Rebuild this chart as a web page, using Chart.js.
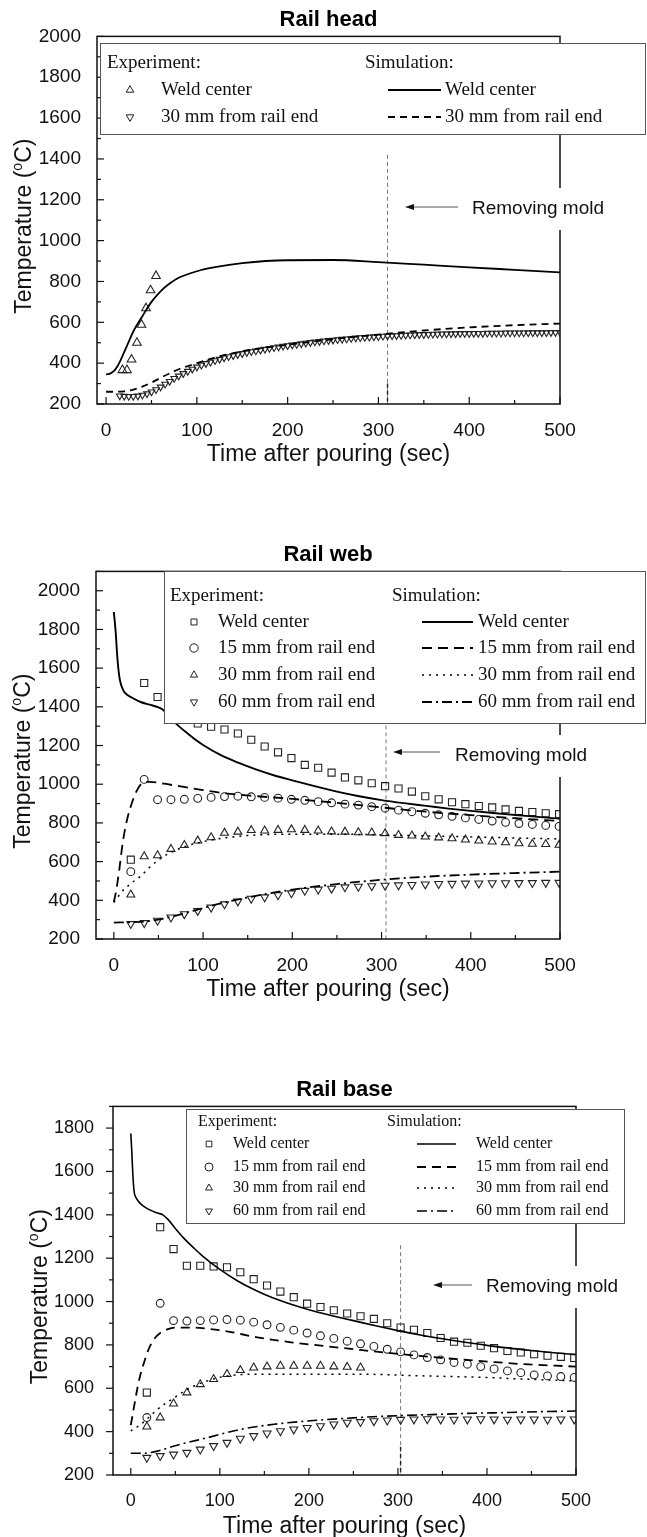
<!DOCTYPE html>
<html>
<head>
<meta charset="utf-8">
<title>Rail weld temperatures</title>
<script src="https://cdn.jsdelivr.net/npm/chart.js@4.4.1/dist/chart.umd.min.js"></script>
<style>
  html, body { margin: 0; padding: 0; background: #fff; }
  #page { position: relative; width: 647px; height: 1537px; overflow: hidden; }
  canvas { position: absolute; left: 0; }
</style>
</head>
<body>
<div id="page">
  <canvas id="head" width="647" height="535" style="top:0"></canvas>
  <canvas id="web" width="647" height="535" style="top:535px"></canvas>
  <canvas id="base" width="647" height="467" style="top:1070px"></canvas>
</div>
<script>
const SANS = '"Liberation Sans", Arial, Helvetica, sans-serif';
const SERIF = '"Liberation Serif", "Times New Roman", serif';

// tick labels
const xTicks = [0, 100, 200, 300, 400, 500];
const headYTicks = [200, 400, 600, 800, 1000, 1200, 1400, 1600, 1800, 2000];
const webYTicks = [200, 400, 600, 800, 1000, 1200, 1400, 1600, 1800, 2000];
const baseYTicks = [200, 400, 600, 800, 1000, 1200, 1400, 1600, 1800];

const headLabels = ['Weld center', '30 mm from rail end'];
const rowLabels = ['Weld center', '15 mm from rail end', '30 mm from rail end', '60 mm from rail end'];

// ---- Rail head ----
const headWeldSimT = [0, 5, 10, 15, 20, 25, 30, 40, 50, 60, 70, 80, 100, 120, 150, 200, 250, 300, 350, 400, 450, 500];
const headWeldSimV = [345, 350, 368, 405, 455, 505, 555, 630, 700, 752, 790, 818, 850, 870, 890, 904, 905, 895, 882, 869, 857, 845];
const headEnd30SimT = [0, 10, 20, 30, 40, 50, 60, 70, 80, 100, 120, 150, 200, 250, 300, 350, 400, 450, 500];
const headEnd30SimV = [260, 260, 262, 270, 285, 305, 328, 350, 370, 400, 428, 458, 490, 517, 540, 560, 575, 586, 594];
const headWeldExpT = [18, 23, 28, 34, 39, 44, 49, 55];
const headWeldExpV = [366, 366, 418, 500, 588, 669, 757, 827];
const headEnd30ExpT = [15, 20, 25, 30, 35, 40, 45, 50, 55, 60, 65, 70, 75, 80, 85, 90, 95, 100,
  105, 110, 115, 120, 125, 130, 135, 140, 145, 150, 155, 160, 165, 170, 175, 180, 185, 190, 195, 200,
  205, 210, 215, 220, 225, 230, 235, 240, 245, 250, 255, 260, 265, 270, 275, 280, 285, 290, 295, 300,
  305, 310, 315, 320, 325, 330, 335, 340, 345, 350, 355, 360, 365, 370, 375, 380, 385, 390, 395, 400,
  405, 410, 415, 420, 425, 430, 435, 440, 445, 450, 455, 460, 465, 470, 475, 480, 485, 490, 495, 500];
const headEnd30ExpV = [240, 238, 237, 237, 239, 243, 250, 259, 270, 283, 297, 311, 325, 337, 349, 360, 371, 381,
  390, 398, 405, 412, 419, 426, 432, 437, 442, 447, 452, 456, 460, 464, 468, 472, 476, 479, 483, 486,
  489, 492, 495, 498, 501, 504, 506, 509, 511, 513, 515, 517, 519, 521, 523, 525, 526, 527, 529, 530,
  532, 533, 534, 535, 536, 537, 538, 539, 540, 540, 541, 542, 542, 543, 543, 544, 544, 545, 545, 545,
  546, 546, 546, 547, 547, 547, 547, 548, 548, 548, 548, 548, 549, 549, 549, 549, 549, 550, 550, 550];

// ---- Rail web ----
const webWeldSimT = [0, 2, 4, 6, 8, 10, 12, 20, 30, 40, 50, 55, 60, 70, 80, 90, 100, 120, 140, 160, 180, 200, 225, 250, 275, 300, 325, 350, 375, 400, 425, 450, 475, 500];
const webWeldSimV = [1890, 1790, 1650, 1560, 1515, 1492, 1475, 1448, 1425, 1411, 1397, 1385, 1360, 1312, 1272, 1235, 1203, 1150, 1110, 1075, 1045, 1020, 990, 962, 938, 918, 902, 888, 874, 862, 851, 841, 831, 822];
const web15SimT = [0, 3, 6, 10, 15, 20, 25, 30, 35, 40, 50, 60, 80, 100, 120, 150, 200, 250, 300, 350, 400, 450, 500];
const web15SimV = [390, 460, 555, 700, 820, 900, 960, 998, 1012, 1012, 1008, 1000, 985, 970, 956, 942, 924, 904, 880, 858, 840, 824, 810];
const web30SimT = [0, 5, 10, 20, 30, 40, 50, 60, 80, 100, 120, 150, 200, 250, 300, 350, 400, 450, 500];
const web30SimV = [390, 420, 450, 490, 525, 570, 608, 638, 678, 703, 720, 735, 742, 742, 738, 733, 728, 722, 717];
const web60SimT = [0, 20, 40, 60, 80, 100, 120, 150, 200, 250, 300, 350, 400, 450, 500];
const web60SimV = [285, 287, 293, 310, 334, 360, 384, 415, 455, 484, 506, 522, 533, 541, 548];
const webExpT = [19, 34, 49, 64, 79, 94, 109, 124, 139, 154, 169, 184, 199, 214, 229, 244, 259, 274, 289, 304, 319, 334, 349, 364, 379, 394, 409, 424, 439, 454, 469, 484, 499];
const webWeldExpV = [610, 1523, 1451, 1400, 1355, 1314, 1297, 1283, 1262, 1230, 1195, 1165, 1135, 1100, 1085, 1060, 1035, 1020, 1005, 990, 978, 962, 938, 922, 907, 897, 887, 880, 870, 862, 856, 850, 845];
const web15ExpV = [548, 1025, 920, 920, 922, 927, 932, 936, 938, 935, 932, 928, 922, 917, 910, 904, 897, 892, 884, 876, 866, 858, 850, 842, 834, 826, 818, 810, 803, 797, 792, 787, 782];
const web30ExpV = [429, 627, 632, 665, 685, 708, 725, 748, 754, 762, 760, 763, 766, 763, 760, 755, 754, 751, 750, 746, 737, 734, 729, 724, 720, 713, 708, 703, 699, 694, 691, 690, 686];
const web60ExpV = [278, 283, 295, 312, 329, 346, 363, 380, 395, 409, 416, 427, 437, 450, 456, 461, 468, 471, 474, 476, 478, 480, 483, 485, 486, 487, 488, 489, 489, 490, 490, 491, 491];

// ---- Rail base ----
const baseWeldSimT = [0, 1, 2, 3, 4, 6, 10, 15, 20, 30, 36, 42, 50, 60, 70, 80, 100, 120, 140, 160, 180, 200, 225, 250, 275, 300, 325, 350, 375, 400, 425, 450, 475, 500];
const baseWeldSimV = [1775, 1700, 1610, 1540, 1500, 1478, 1455, 1438, 1425, 1408, 1400, 1378, 1337, 1290, 1250, 1212, 1148, 1095, 1052, 1016, 987, 962, 936, 912, 888, 866, 846, 828, 812, 798, 785, 774, 764, 755];
const base15SimT = [0, 3, 6, 10, 15, 20, 26, 33, 41, 50, 67, 85, 105, 142, 180, 217, 255, 292, 330, 367, 404, 442, 500];
const base15SimV = [430, 500, 570, 650, 720, 780, 826, 855, 872, 880, 880, 875, 865, 835, 812, 795, 778, 762, 747, 734, 722, 711, 700];
const base30SimT = [0, 10, 20, 30, 49, 67, 86, 105, 124, 142, 180, 255, 330, 404, 442, 500];
const base30SimV = [403, 430, 465, 503, 557, 603, 634, 655, 663, 665, 665, 665, 657, 649, 642, 634];
const base60SimT = [0, 10, 20, 30, 49, 86, 124, 161, 198, 236, 273, 311, 348, 386, 423, 460, 500];
const base60SimV = [300, 300, 302, 310, 334, 372, 411, 434, 449, 460, 469, 475, 480, 485, 488, 492, 495];
const baseExpT = [18, 33, 48, 63, 78, 93, 108, 123, 138, 153, 168, 183, 198, 213, 228, 243, 258, 273, 288, 303, 318, 333, 348, 363, 378, 393, 408, 423, 438, 453, 468, 483, 498];
const baseWeldExpV = [580, 1343, 1242, 1165, 1165, 1162, 1158, 1135, 1103, 1074, 1046, 1020, 990, 975, 960, 945, 932, 920, 900, 880, 870, 855, 832, 815, 810, 796, 785, 772, 765, 757, 750, 745, 740];
const base15ExpV = [465, 992, 912, 910, 912, 915, 917, 914, 905, 893, 881, 868, 855, 842, 830, 817, 805, 793, 780, 768, 754, 742, 731, 719, 711, 700, 689, 680, 672, 662, 657, 654, 650];
const base30ExpT = [18, 33, 48, 63, 78, 93, 108, 123, 138, 153, 168, 183, 198, 213, 228, 243, 258];
const base30ExpV = [423, 465, 529, 580, 618, 642, 665, 683, 695, 700, 703, 703, 703, 703, 700, 698, 695];
const base60ExpV = [280, 288, 295, 303, 318, 334, 349, 368, 380, 392, 403, 411, 418, 426, 434, 442, 445, 449, 452, 455, 457, 458, 457, 456, 457, 458, 457, 456, 457, 457, 456, 457, 457];

const pts = (t, v) => t.map((x, i) => ({ x, y: v[i] }));

function simLine(t, v, dash, width) {
  return {
    data: pts(t, v), showLine: true, pointRadius: 0, fill: false,
    borderColor: '#000', borderWidth: width || 1.8, borderDash: dash || [],
    cubicInterpolationMode: 'monotone'
  };
}

function expMarks(t, v, style, r, rot) {
  return {
    data: pts(t, v), showLine: false, pointStyle: style, pointRadius: r, pointRotation: rot || 0,
    pointBorderColor: '#222', pointBorderWidth: 1.1, pointBackgroundColor: 'rgba(0,0,0,0)',
    borderColor: '#222', backgroundColor: 'rgba(0,0,0,0)'
  };
}

function drawYTitle(ctx, cx, cy) {
  ctx.save();
  ctx.translate(cx, cy);
  ctx.rotate(-Math.PI / 2);
  const big = '23px ' + SANS, small = '14px ' + SANS;
  ctx.font = big;
  const w1 = ctx.measureText('Temperature (').width;
  const w3 = ctx.measureText('C)').width;
  ctx.font = small;
  const w2 = ctx.measureText('o').width;
  let x = -(w1 + w2 + w3) / 2;
  ctx.textAlign = 'left';
  ctx.textBaseline = 'middle';
  ctx.font = big; ctx.fillText('Temperature (', x, 0); x += w1;
  ctx.font = small; ctx.fillText('o', x, -7); x += w2;
  ctx.font = big; ctx.fillText('C)', x, 0);
  ctx.restore();
}

// frame, ticks, mold line, legend and labels
const railPlugin = {
  id: 'rail',
  beforeDatasetsDraw(chart, args, o) {
    const { ctx, scales: { x, y } } = chart;
    const px = x.getPixelForValue(o.moldT);
    ctx.save();
    ctx.strokeStyle = '#777';
    ctx.lineWidth = 1;
    ctx.setLineDash([4, 3]);
    ctx.beginPath();
    ctx.moveTo(px, y.getPixelForValue(o.moldTop));
    ctx.lineTo(px, y.getPixelForValue(y.min));
    ctx.stroke();
    if (o.moldDark) {
      // lower part of the marker line is printed darker
      ctx.strokeStyle = '#222';
      ctx.lineWidth = 1.4;
      ctx.beginPath();
      ctx.moveTo(px, y.getPixelForValue(o.moldDark));
      ctx.lineTo(px, y.getPixelForValue(y.min));
      ctx.stroke();
    }
    ctx.restore();
  },
  afterDatasetsDraw(chart, args, o) {
    const { ctx, chartArea: a, scales: { x, y } } = chart;
    ctx.save();
    ctx.setLineDash([]);
    ctx.strokeStyle = '#111';
    ctx.lineWidth = 1.5;
    ctx.strokeRect(a.left, a.top, a.right - a.left, a.bottom - a.top);

    // ticks (x always inward, y inward or outward)
    ctx.lineWidth = 1.2;
    const tick = (px, py, dx, dy) => {
      ctx.beginPath(); ctx.moveTo(px, py); ctx.lineTo(px + dx, py + dy); ctx.stroke();
    };
    for (let v = 0; v <= x.max; v += 50) {
      tick(x.getPixelForValue(v), a.bottom, 0, -(v % 100 ? 4 : 7));
    }
    const dir = o.yTicksOut ? -1 : 1;
    for (let v = y.min; v <= y.max; v += 100) {
      tick(a.left, y.getPixelForValue(v), dir * (v % 200 ? 4 : 7), 0);
    }

    // legend box
    const L = o.legend;
    ctx.fillStyle = '#fff';
    ctx.fillRect(L.x0, L.y0, L.x1 - L.x0, L.y1 - L.y0);
    ctx.strokeStyle = '#555';
    ctx.lineWidth = 1;
    ctx.strokeRect(L.x0 + 0.5, L.y0 + 0.5, L.x1 - L.x0 - 1, L.y1 - L.y0);
    ctx.font = L.font;
    ctx.textBaseline = 'middle';
    ctx.textAlign = 'left';
    ctx.fillStyle = '#111';
    ctx.fillText('Experiment:', L.expHeadX, L.headY);
    ctx.fillText('Simulation:', L.simHeadX, L.headY);
    L.rows.forEach((row, i) => {
      const ry = L.rowY[i];
      const e = chart.data.datasets[row.exp];
      const s = chart.data.datasets[row.sim];
      ctx.strokeStyle = '#222';
      ctx.lineWidth = 1;
      ctx.setLineDash([]);
      ctx.fillStyle = 'rgba(0,0,0,0)';
      Chart.helpers.drawPoint(ctx, {
        pointStyle: e.pointStyle, rotation: e.pointRotation,
        radius: L.markR, borderWidth: 1
      }, L.markX, ry);
      ctx.fillStyle = '#111';
      ctx.fillText(row.label, L.expTextX, ry);
      ctx.strokeStyle = '#000';
      ctx.lineWidth = s.borderWidth;
      ctx.setLineDash(s.borderDash);
      ctx.beginPath(); ctx.moveTo(L.lineX0, ry); ctx.lineTo(L.lineX1, ry); ctx.stroke();
      ctx.setLineDash([]);
      ctx.fillText(row.label, L.simTextX, ry);
    });

    // "Removing mold" note with arrow
    const M = o.mold;
    ctx.font = '19px ' + SANS;
    const w = ctx.measureText('Removing mold').width;
    ctx.fillStyle = '#fff';
    ctx.fillRect(M.textX - 4, M.textY - 21, w + 8, 42);
    ctx.fillStyle = '#111';
    ctx.fillText('Removing mold', M.textX, M.textY);
    ctx.strokeStyle = '#555';
    ctx.lineWidth = 1;
    ctx.beginPath(); ctx.moveTo(M.arrowX1, M.arrowY); ctx.lineTo(M.arrowX0 + 6, M.arrowY); ctx.stroke();
    ctx.fillStyle = '#111';
    ctx.beginPath();
    ctx.moveTo(M.arrowX0, M.arrowY);
    ctx.lineTo(M.arrowX0 + 9, M.arrowY - 3);
    ctx.lineTo(M.arrowX0 + 9, M.arrowY + 3);
    ctx.closePath();
    ctx.fill();

    // axis titles
    ctx.font = '23px ' + SANS;
    ctx.textAlign = 'center';
    ctx.fillText('Time after pouring (sec)', (a.left + a.right) / 2, o.xTitleY);
    drawYTitle(ctx, a.left - 72, (a.top + a.bottom) / 2 + 6);
    ctx.restore();
  }
};

function makeChart(id, c) {
  return new Chart(document.getElementById(id), {
    type: 'scatter',
    data: { datasets: c.datasets },
    options: {
      responsive: false,
      animation: false,
      events: [],
      layout: { padding: c.padding },
      plugins: {
        legend: { display: false },
        tooltip: { enabled: false },
        title: {
          display: true, text: c.title, color: '#000', fullSize: false,
          font: { family: SANS, size: 22, weight: 'bold' },
          padding: { top: 7, bottom: 3 }
        },
        rail: c.rail
      },
      scales: {
        x: {
          type: 'linear', min: c.xMin, max: 500,
          grid: { display: false }, border: { display: false },
          afterBuildTicks: s => { s.ticks = xTicks.map(v => ({ value: v })); },
          afterFit: s => { s.height = 40; },
          ticks: {
            autoSkip: false, maxRotation: 0, padding: 7, color: '#111',
            font: { family: SANS, size: c.tickSize }, callback: v => String(v)
          }
        },
        y: {
          type: 'linear', min: 200, max: c.yMax,
          grid: { display: false }, border: { display: false },
          afterBuildTicks: s => { s.ticks = c.yTicks.map(v => ({ value: v })); },
          afterFit: s => { s.width = c.yWidth; },
          ticks: {
            autoSkip: false, padding: c.yPad, color: '#111',
            font: { family: SANS, size: c.tickSize }, callback: v => String(v)
          }
        }
      }
    },
    plugins: [railPlugin]
  });
}

makeChart('head', {
  title: 'Rail head',
  padding: { left: 0, right: 87, top: 0, bottom: 91 },
  yWidth: 97, yPad: 8, xMin: -10, yMax: 2000, yTicks: headYTicks, tickSize: 19,
  datasets: [
    simLine(headWeldSimT, headWeldSimV, [], 1.8),
    simLine(headEnd30SimT, headEnd30SimV, [7, 5], 1.8),
    expMarks(headWeldExpT, headWeldExpV, 'triangle', 5),
    expMarks(headEnd30ExpT, headEnd30ExpV, 'triangle', 3.8, 180)
  ],
  rail: {
    moldT: 310, moldTop: 1420, moldDark: 300, yTicksOut: false, xTitleY: 455,
    legend: {
      x0: 100, y0: 43, x1: 646, y1: 134, font: '19px ' + SERIF,
      headY: 63, rowY: [90, 117], expHeadX: 107, simHeadX: 365,
      markX: 130, markR: 4.4, expTextX: 161, lineX0: 388, lineX1: 441, simTextX: 445,
      rows: [{ exp: 2, sim: 0, label: headLabels[0] }, { exp: 3, sim: 1, label: headLabels[1] }]
    },
    mold: { textX: 472, textY: 209, arrowX0: 405, arrowX1: 458, arrowY: 207 }
  }
});

makeChart('web', {
  title: 'Rail web',
  padding: { left: 0, right: 87, top: 0, bottom: 91 },
  yWidth: 96, yPad: 8, xMin: -20, yMax: 2100, yTicks: webYTicks, tickSize: 19,
  datasets: [
    simLine(webWeldSimT, webWeldSimV, [], 1.9),
    simLine(web15SimT, web15SimV, [10, 6], 1.8),
    simLine(web30SimT, web30SimV, [2, 5], 1.5),
    simLine(web60SimT, web60SimV, [10, 4, 2, 4], 1.8),
    expMarks(webExpT, webWeldExpV, 'rect', 5),
    expMarks(webExpT, web15ExpV, 'circle', 3.9),
    expMarks(webExpT, web30ExpV, 'triangle', 4.6),
    expMarks(webExpT, web60ExpV, 'triangle', 4.6, 180)
  ],
  rail: {
    moldT: 305, moldTop: 2100, moldDark: 0, yTicksOut: false, xTitleY: 455,
    legend: {
      x0: 164, y0: 36, x1: 646, y1: 188, font: '19px ' + SERIF,
      headY: 61, rowY: [87, 113, 140, 167], expHeadX: 170, simHeadX: 392,
      markX: 194, markR: 4.2, expTextX: 218, lineX0: 422, lineX1: 473, simTextX: 478,
      rows: rowLabels.map((label, i) => ({ exp: 4 + i, sim: i, label }))
    },
    mold: { textX: 455, textY: 221, arrowX0: 393, arrowX1: 440, arrowY: 217 }
  }
});

makeChart('base', {
  title: 'Rail base',
  padding: { left: 0, right: 71, top: 0, bottom: 22 },
  yWidth: 113, yPad: 11, xMin: -20, yMax: 1900, yTicks: baseYTicks, tickSize: 18,
  datasets: [
    simLine(baseWeldSimT, baseWeldSimV, [], 1.6),
    simLine(base15SimT, base15SimV, [9, 6], 1.8),
    simLine(base30SimT, base30SimV, [2, 5], 1.5),
    simLine(base60SimT, base60SimV, [10, 4, 2, 4], 1.6),
    expMarks(baseExpT, baseWeldExpV, 'rect', 5),
    expMarks(baseExpT, base15ExpV, 'circle', 3.9),
    expMarks(base30ExpT, base30ExpV, 'triangle', 4.6),
    expMarks(baseExpT, base60ExpV, 'triangle', 4.6, 180)
  ],
  rail: {
    moldT: 303, moldTop: 1260, moldDark: 330, yTicksOut: true, xTitleY: 457,
    legend: {
      x0: 186, y0: 39, x1: 625, y1: 153, font: '16px ' + SERIF,
      headY: 52, rowY: [74, 97, 118, 141], expHeadX: 198, simHeadX: 387,
      markX: 209, markR: 4, expTextX: 233, lineX0: 417, lineX1: 456, simTextX: 476,
      rows: rowLabels.map((label, i) => ({ exp: 4 + i, sim: i, label }))
    },
    mold: { textX: 486, textY: 217, arrowX0: 433, arrowX1: 472, arrowY: 215 }
  }
});
</script>
</body>
</html>
